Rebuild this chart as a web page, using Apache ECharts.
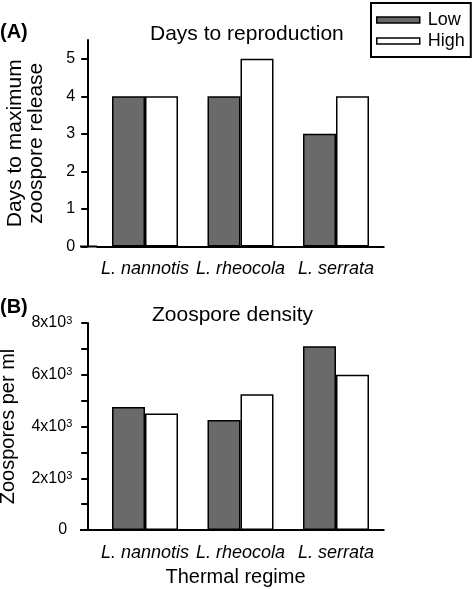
<!DOCTYPE html>
<html>
<head>
<meta charset="utf-8">
<script src="https://cdn.jsdelivr.net/npm/echarts@6/dist/echarts.min.js"></script>
<style>html,body{margin:0;padding:0;background:#fff;}#chart{width:475px;height:589px;}</style>
</head>
<body>
<div id="chart"></div>
<script>
const categories = ['L. nannotis', 'L. rheocola', 'L. serrata'];
const seriesNames = ['Low', 'High'];
const daysLow = [4, 4, 3];
const daysHigh = [4, 5, 4];
const densityLow = [4750, 4250, 7100];
const densityHigh = [4500, 5250, 6000];
const daysTicks = [0, 1, 2, 3, 4, 5];
const densityLabelTicks = [0, 2000, 4000, 6000, 8000];
const densityTickMarks = [0, 1000, 2000, 3000, 4000, 5000, 6000, 7000, 8000];

const FONT = '"Liberation Sans", Arial, Helvetica, sans-serif';
const LOW_COLOR = '#6a6a6a';
const HIGH_COLOR = '#ffffff';

const chart = echarts.init(document.getElementById('chart'), null, {renderer: 'canvas'});

const gridLeft = 97.25, gridRight = 91.25;
const axA = 246.5, axB = 530;

function catAxis(gi, margin, extra) {
  return Object.assign({
    gridIndex: gi, type: 'category', data: categories,
    axisLine: {lineStyle: {color: '#000', width: 2}},
    axisTick: {alignWithLabel: true, length: 5, lineStyle: {color: '#000', width: 2}},
    axisLabel: {interval: 0, fontStyle: 'italic', fontSize: 18, color: '#000', margin: margin, fontFamily: FONT},
    splitLine: {show: false}
  }, extra || {});
}

function barSeries(name, xi, data, color) {
  return {
    name: name, type: 'bar', xAxisIndex: xi, yAxisIndex: xi, data: data,
    barWidth: 33, barGap: '0%',
    itemStyle: {color: color, borderColor: '#000', borderWidth: 1.5}
  };
}

const option = {
  animation: false,
  backgroundColor: '#fff',
  textStyle: {fontFamily: FONT, color: '#000'},
  title: [
    {text: '(A)', left: 0, top: 22, padding: 0, textStyle: {fontSize: 20, fontWeight: 'bold', color: '#000', fontFamily: FONT}},
    {text: 'Days to reproduction', left: 150, top: 24, padding: 0, textStyle: {fontSize: 21, fontWeight: 'normal', color: '#000', fontFamily: FONT}},
    {text: '(B)', left: 0, top: 297, padding: 0, textStyle: {fontSize: 20, fontWeight: 'bold', color: '#000', fontFamily: FONT}},
    {text: 'Zoospore density', left: 152, top: 305, padding: 0, textStyle: {fontSize: 21, fontWeight: 'normal', color: '#000', fontFamily: FONT}}
  ],
  legend: {
    left: 371, top: 3, orient: 'vertical',
    padding: [8, 6, 7, 5], itemGap: 3,
    itemWidth: 43, itemHeight: 6,
    borderColor: '#000', borderWidth: 2, backgroundColor: '#fff',
    textStyle: {fontSize: 18, color: '#000', fontFamily: FONT, padding: [0, 0, 0, 3]},
    data: [
      {name: 'Low', icon: 'rect', itemStyle: {color: LOW_COLOR, borderColor: '#000', borderWidth: 1.5}},
      {name: 'High', icon: 'rect', itemStyle: {color: HIGH_COLOR, borderColor: '#000', borderWidth: 1.5}}
    ]
  },
  grid: [
    {left: gridLeft, right: gridRight, top: 40, bottom: 589 - axA, containLabel: false, outerBoundsMode: 'none'},
    {left: gridLeft, right: gridRight, top: 323, bottom: 589 - axB, containLabel: false, outerBoundsMode: 'none'}
  ],
  xAxis: [
    catAxis(0, 13),
    catAxis(1, 14, {name: 'Thermal regime', nameLocation: 'middle', nameGap: 37,
      nameTextStyle: {fontSize: 20, color: '#000', fontFamily: FONT, padding: [0, 10, 0, 0]}})
  ],
  yAxis: [
    {
      gridIndex: 0, type: 'value', min: 0, max: 5.5, offset: 10,
      name: 'Days to maximum\nzoospore release', nameLocation: 'middle', nameGap: 41,
      nameTextStyle: {fontSize: 21, lineHeight: 21, color: '#000', fontFamily: FONT},
      axisLine: {show: true, lineStyle: {color: '#000', width: 2}},
      axisTick: {show: true, length: 6, customValues: daysTicks, lineStyle: {color: '#000', width: 2}},
      axisLabel: {fontSize: 16, color: '#000', margin: 12, customValues: daysTicks, fontFamily: FONT},
      splitLine: {show: false}
    },
    {
      gridIndex: 1, type: 'value', min: 0, max: 8000, offset: 10,
      name: 'Zoospores per ml', nameLocation: 'middle', nameGap: 69,
      nameTextStyle: {fontSize: 20, color: '#000', fontFamily: FONT},
      axisLine: {show: true, lineStyle: {color: '#000', width: 2}},
      axisTick: {show: true, length: 6, customValues: densityTickMarks, lineStyle: {color: '#000', width: 2}},
      axisLabel: {
        color: '#000', margin: 15, customValues: densityLabelTicks, fontFamily: FONT,
        formatter: function (v) { return v === 0 ? '{m|0}{e|}' : '{m|' + (v / 1000) + 'x10}{s|3}'; },
        rich: {
          m: {fontSize: 16, color: '#000', fontFamily: FONT},
          s: {fontSize: 11, color: '#000', fontFamily: FONT, verticalAlign: 'top'},
          e: {width: 5}
        }
      },
      splitLine: {show: false}
    }
  ],
  series: [
    barSeries(seriesNames[0], 0, daysLow, LOW_COLOR),
    barSeries(seriesNames[1], 0, daysHigh, HIGH_COLOR),
    barSeries(seriesNames[0], 1, densityLow, LOW_COLOR),
    barSeries(seriesNames[1], 1, densityHigh, HIGH_COLOR)
  ],
  graphic: [
    {type: 'line', shape: {x1: 80, y1: axA, x2: gridLeft, y2: axA}, style: {stroke: '#000', lineWidth: 2}},
    {type: 'line', shape: {x1: 80, y1: axB, x2: gridLeft, y2: axB}, style: {stroke: '#000', lineWidth: 2}}
  ]
};
chart.setOption(option);
</script>
</body>
</html>
